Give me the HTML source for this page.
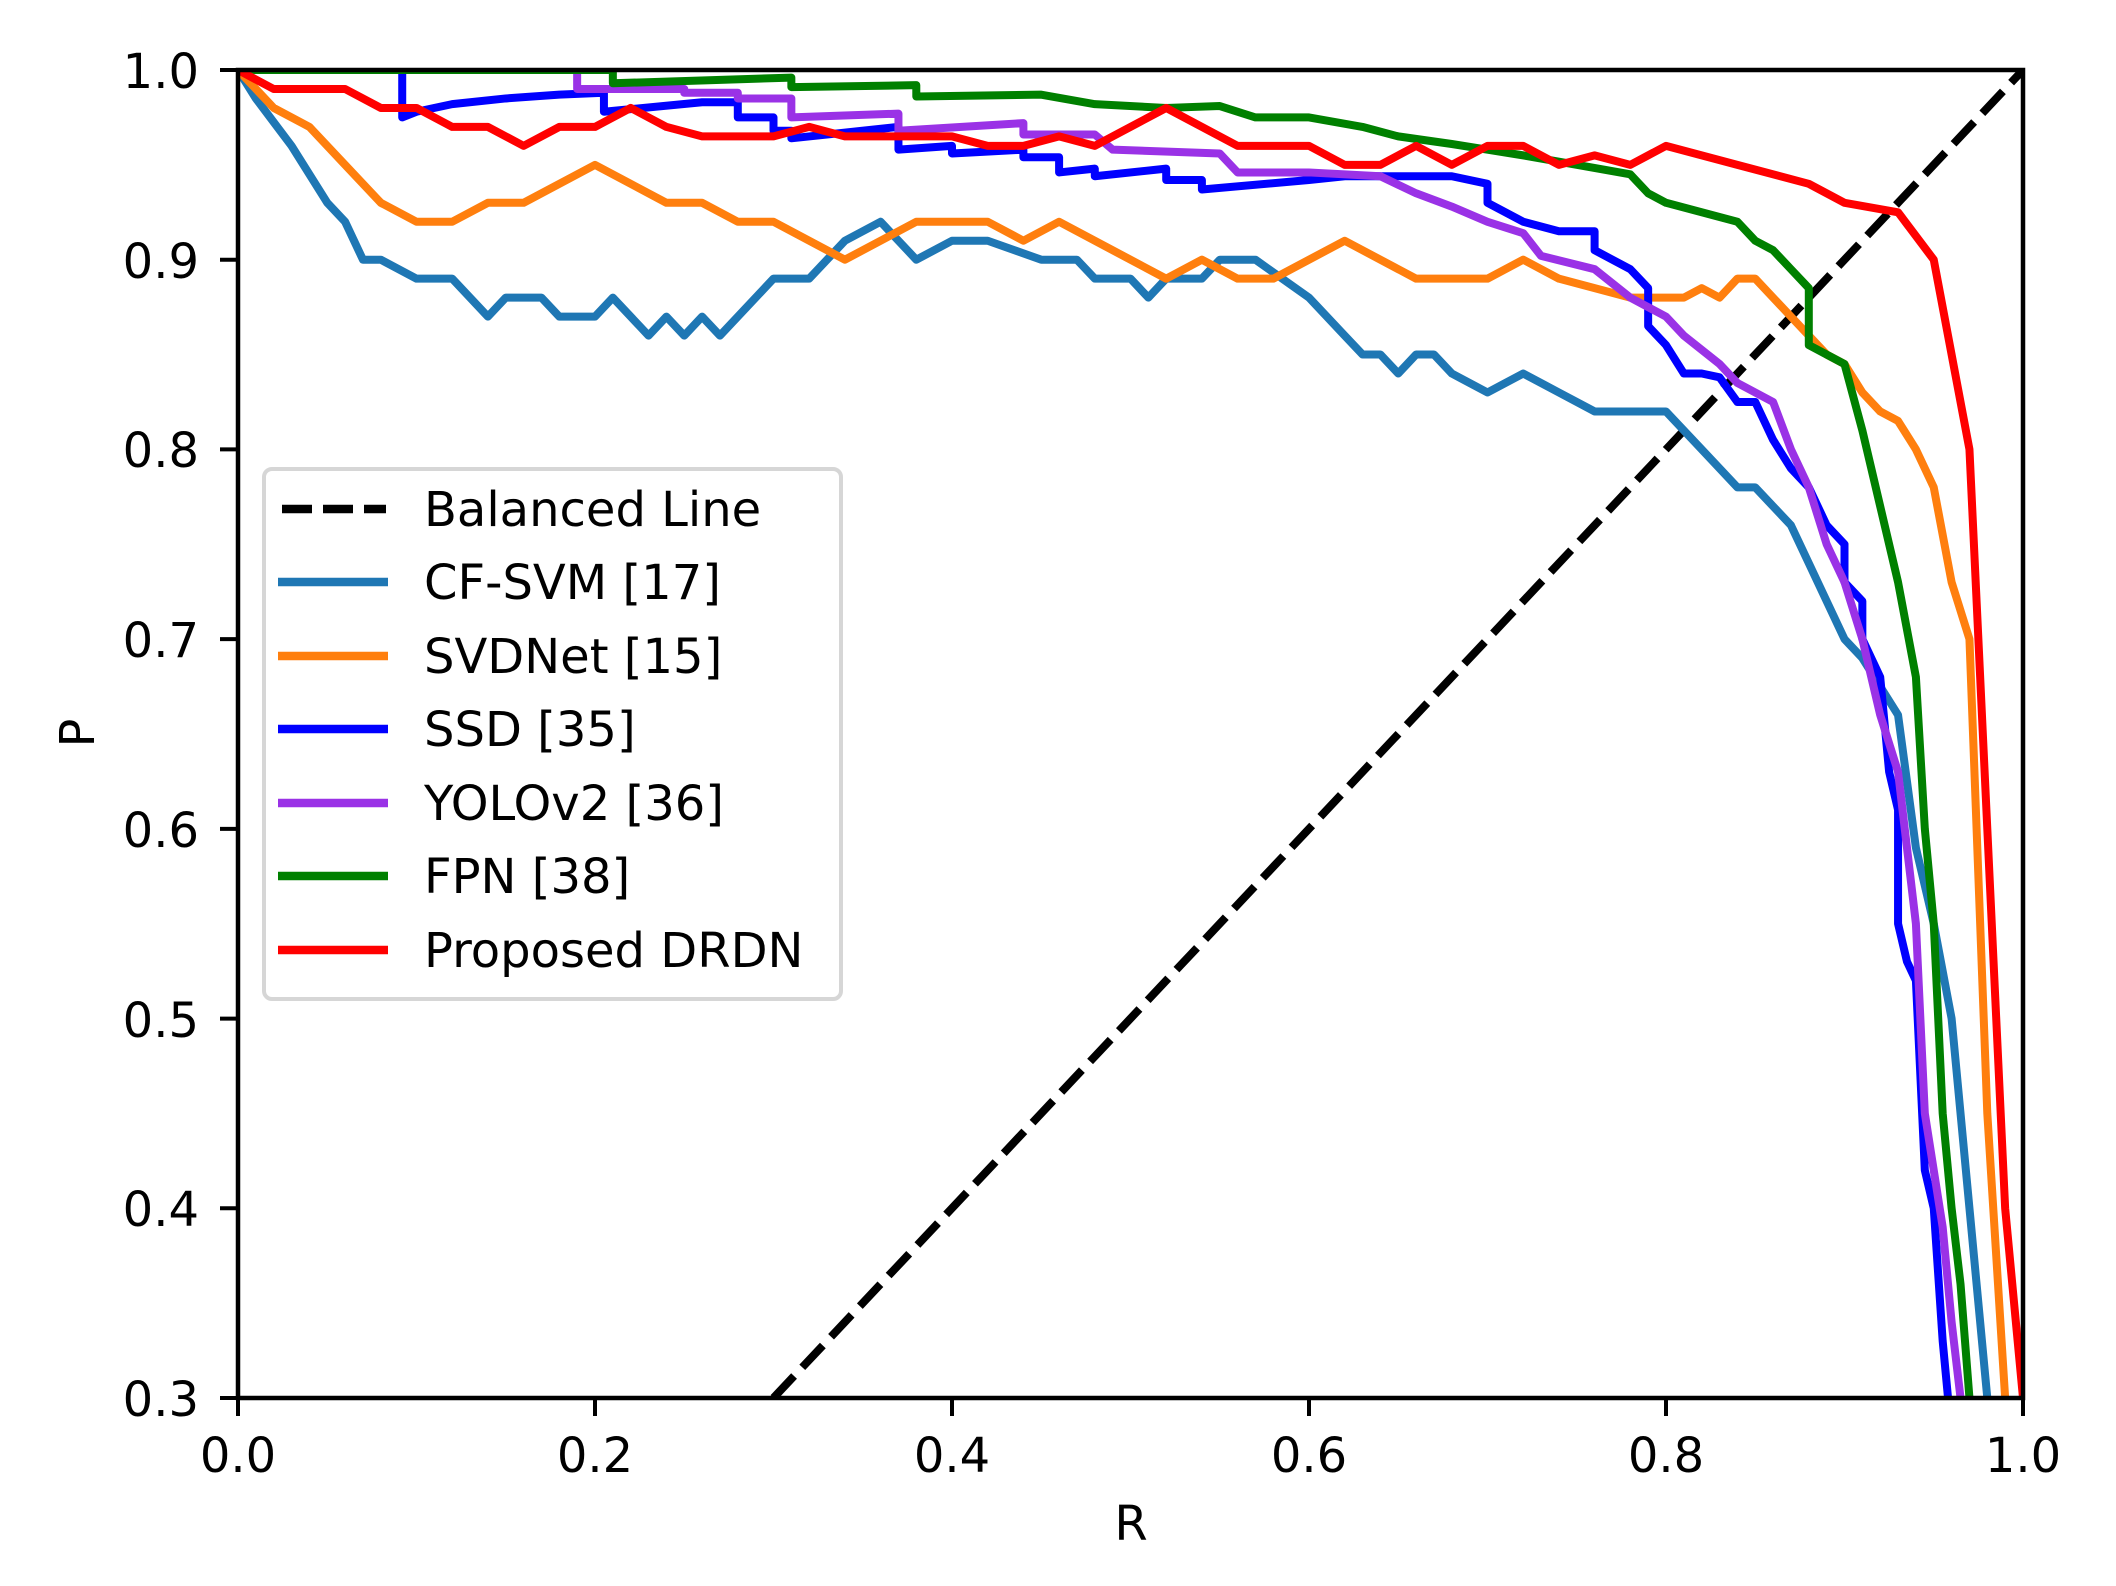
<!DOCTYPE html>
<html><head><meta charset="utf-8"><style>
html,body{margin:0;padding:0;background:#fff;}
svg{display:block;font-family:"DejaVu Sans","Liberation Sans",sans-serif;}
</style></head><body>
<svg width="2116" height="1586" viewBox="0 0 2116 1586" xmlns="http://www.w3.org/2000/svg">
<defs><clipPath id="c"><rect x="238" y="70" width="1785" height="1328"/></clipPath></defs>
<rect width="2116" height="1586" fill="#fff"/>
<g clip-path="url(#c)">
<g transform="translate(238,1967) scale(1785,-1897)" fill="none" stroke-linejoin="round">
<polyline vector-effect="non-scaling-stroke" stroke="#000" stroke-width="8" stroke-dasharray="30 12" points="0.3,0.3 1,1"/>
<polyline vector-effect="non-scaling-stroke" stroke="#1f77b4" stroke-width="8" points="0,1 0.01,0.985 0.03,0.96 0.05,0.93 0.06,0.92 0.07,0.90 0.08,0.90 0.1,0.89 0.12,0.89 0.14,0.87 0.15,0.88 0.17,0.88 0.18,0.87 0.2,0.87 0.21,0.88 0.23,0.86 0.24,0.87 0.25,0.86 0.26,0.87 0.27,0.86 0.3,0.89 0.32,0.89 0.34,0.91 0.36,0.92 0.38,0.90 0.4,0.91 0.42,0.91 0.45,0.90 0.47,0.90 0.48,0.89 0.5,0.89 0.51,0.88 0.52,0.89 0.54,0.89 0.55,0.90 0.57,0.90 0.6,0.88 0.62,0.86 0.63,0.85 0.64,0.85 0.65,0.84 0.66,0.85 0.67,0.85 0.68,0.84 0.7,0.83 0.72,0.84 0.74,0.83 0.76,0.82 0.8,0.82 0.82,0.80 0.84,0.78 0.85,0.78 0.87,0.76 0.88,0.74 0.9,0.70 0.91,0.69 0.93,0.66 0.94,0.59 0.95,0.55 0.96,0.50 0.97,0.40 0.98,0.30"/>
<polyline vector-effect="non-scaling-stroke" stroke="#ff7f0e" stroke-width="8" points="0,1 0.02,0.98 0.04,0.97 0.06,0.95 0.08,0.93 0.1,0.92 0.12,0.92 0.14,0.93 0.16,0.93 0.2,0.95 0.24,0.93 0.26,0.93 0.28,0.92 0.3,0.92 0.34,0.90 0.38,0.92 0.42,0.92 0.44,0.91 0.46,0.92 0.52,0.89 0.54,0.90 0.56,0.89 0.58,0.89 0.62,0.91 0.66,0.89 0.7,0.89 0.72,0.90 0.74,0.89 0.78,0.88 0.8,0.88 0.81,0.88 0.82,0.885 0.83,0.88 0.84,0.89 0.85,0.89 0.87,0.87 0.89,0.85 0.9,0.845 0.91,0.83 0.92,0.82 0.93,0.815 0.94,0.80 0.95,0.78 0.96,0.73 0.97,0.70 0.98,0.45 0.99,0.30"/>
<polyline vector-effect="non-scaling-stroke" stroke="#0000ff" stroke-width="8" points="0,1 0.092,1 0.092,0.975 0.1,0.978 0.12,0.982 0.15,0.985 0.18,0.987 0.205,0.988 0.205,0.978 0.26,0.983 0.28,0.983 0.28,0.975 0.3,0.975 0.3,0.968 0.31,0.968 0.31,0.964 0.37,0.97 0.37,0.958 0.4,0.96 0.4,0.956 0.44,0.958 0.44,0.954 0.46,0.954 0.46,0.946 0.48,0.948 0.48,0.944 0.52,0.948 0.52,0.942 0.54,0.942 0.54,0.937 0.6,0.942 0.62,0.944 0.68,0.944 0.7,0.94 0.7,0.93 0.72,0.92 0.74,0.915 0.76,0.915 0.76,0.905 0.78,0.895 0.79,0.885 0.79,0.865 0.8,0.855 0.81,0.84 0.82,0.84 0.83,0.838 0.84,0.825 0.85,0.825 0.86,0.805 0.87,0.79 0.88,0.78 0.89,0.76 0.9,0.75 0.9,0.73 0.91,0.72 0.91,0.70 0.92,0.68 0.925,0.63 0.93,0.61 0.93,0.55 0.935,0.53 0.94,0.52 0.945,0.42 0.95,0.40 0.955,0.33 0.958,0.3"/>
<polyline vector-effect="non-scaling-stroke" stroke="#9a32e6" stroke-width="8" points="0,1 0.19,1 0.19,0.99 0.21,0.99 0.25,0.99 0.25,0.988 0.28,0.988 0.28,0.985 0.31,0.985 0.31,0.975 0.37,0.977 0.37,0.968 0.44,0.972 0.44,0.966 0.48,0.966 0.49,0.958 0.55,0.956 0.56,0.946 0.6,0.946 0.64,0.944 0.66,0.935 0.68,0.928 0.7,0.92 0.72,0.914 0.73,0.902 0.76,0.895 0.78,0.88 0.8,0.87 0.81,0.86 0.83,0.845 0.84,0.835 0.86,0.825 0.87,0.80 0.88,0.78 0.89,0.75 0.9,0.73 0.91,0.70 0.92,0.66 0.93,0.63 0.94,0.55 0.945,0.45 0.955,0.39 0.96,0.34 0.965,0.3"/>
<polyline vector-effect="non-scaling-stroke" stroke="#008000" stroke-width="8" points="0,1 0.21,1 0.21,0.993 0.31,0.996 0.31,0.991 0.38,0.992 0.38,0.986 0.45,0.987 0.48,0.982 0.52,0.98 0.55,0.981 0.57,0.975 0.6,0.975 0.63,0.97 0.65,0.965 0.68,0.961 0.7,0.958 0.72,0.955 0.75,0.95 0.78,0.945 0.79,0.935 0.8,0.93 0.82,0.925 0.84,0.92 0.85,0.91 0.86,0.905 0.87,0.895 0.88,0.885 0.88,0.855 0.9,0.845 0.91,0.81 0.92,0.77 0.93,0.73 0.94,0.68 0.945,0.6 0.95,0.55 0.955,0.45 0.96,0.40 0.965,0.36 0.97,0.3"/>
<polyline vector-effect="non-scaling-stroke" stroke="#ff0000" stroke-width="8" points="0,1 0.02,0.99 0.06,0.99 0.08,0.98 0.1,0.98 0.12,0.97 0.14,0.97 0.16,0.96 0.18,0.97 0.2,0.97 0.22,0.98 0.24,0.97 0.26,0.965 0.3,0.965 0.32,0.97 0.34,0.965 0.4,0.965 0.42,0.96 0.44,0.96 0.46,0.965 0.48,0.96 0.52,0.98 0.56,0.96 0.6,0.96 0.62,0.95 0.64,0.95 0.66,0.96 0.68,0.95 0.7,0.96 0.72,0.96 0.74,0.95 0.76,0.955 0.78,0.95 0.8,0.96 0.84,0.95 0.88,0.94 0.9,0.93 0.93,0.925 0.95,0.90 0.97,0.80 0.98,0.60 0.99,0.40 1.0,0.3"/>
</g></g>
<rect x="238" y="70" width="1785" height="1328" fill="none" stroke="#000" stroke-width="4.5"/>
<g stroke="#000" stroke-width="4">
<line x1="238" y1="1398" x2="238" y2="1416"/><line x1="595" y1="1398" x2="595" y2="1416"/><line x1="952" y1="1398" x2="952" y2="1416"/><line x1="1309" y1="1398" x2="1309" y2="1416"/><line x1="1666" y1="1398" x2="1666" y2="1416"/><line x1="2023" y1="1398" x2="2023" y2="1416"/>
<line x1="220" y1="1398" x2="238" y2="1398"/><line x1="220" y1="1208.3" x2="238" y2="1208.3"/><line x1="220" y1="1018.6" x2="238" y2="1018.6"/><line x1="220" y1="828.9" x2="238" y2="828.9"/><line x1="220" y1="639.1" x2="238" y2="639.1"/><line x1="220" y1="449.4" x2="238" y2="449.4"/><line x1="220" y1="259.7" x2="238" y2="259.7"/><line x1="220" y1="70" x2="238" y2="70"/>
</g>
<g font-size="48" fill="#000" text-anchor="middle">
<text x="238" y="1472">0.0</text><text x="595" y="1472">0.2</text><text x="952" y="1472">0.4</text><text x="1309" y="1472">0.6</text><text x="1666" y="1472">0.8</text><text x="2023" y="1472">1.0</text>
<text x="1131" y="1540">R</text>
</g>
<g font-size="48" fill="#000" text-anchor="end">
<text x="199" y="1416">0.3</text><text x="199" y="1226">0.4</text><text x="199" y="1037">0.5</text><text x="199" y="847">0.6</text><text x="199" y="657">0.7</text><text x="199" y="467">0.8</text><text x="199" y="278">0.9</text><text x="199" y="88">1.0</text>
</g>
<text font-size="48" text-anchor="middle" transform="translate(94,733) rotate(-90)">P</text>
<rect x="264" y="469" width="577" height="530" rx="8" fill="#fff" fill-opacity="0.85" stroke="#d6d6d6" stroke-width="4"/>
<g stroke-width="8.5">
<line x1="282" y1="509" x2="386" y2="509" stroke="#000" stroke-dasharray="30 11"/>
<line x1="278" y1="582" x2="388" y2="582" stroke="#1f77b4"/>
<line x1="278" y1="656" x2="388" y2="656" stroke="#ff7f0e"/>
<line x1="278" y1="729" x2="388" y2="729" stroke="#0000ff"/>
<line x1="278" y1="803" x2="388" y2="803" stroke="#9a32e6"/>
<line x1="278" y1="876" x2="388" y2="876" stroke="#008000"/>
<line x1="278" y1="950" x2="388" y2="950" stroke="#ff0000"/>
</g>
<g font-size="48" fill="#000">
<text x="424" y="526">Balanced Line</text>
<text x="424" y="599">CF-SVM [17]</text>
<text x="424" y="673">SVDNet [15]</text>
<text x="424" y="746">SSD [35]</text>
<text x="424" y="820">YOLOv2 [36]</text>
<text x="424" y="893">FPN [38]</text>
<text x="424" y="967">Proposed DRDN</text>
</g>
</svg>
</body></html>
